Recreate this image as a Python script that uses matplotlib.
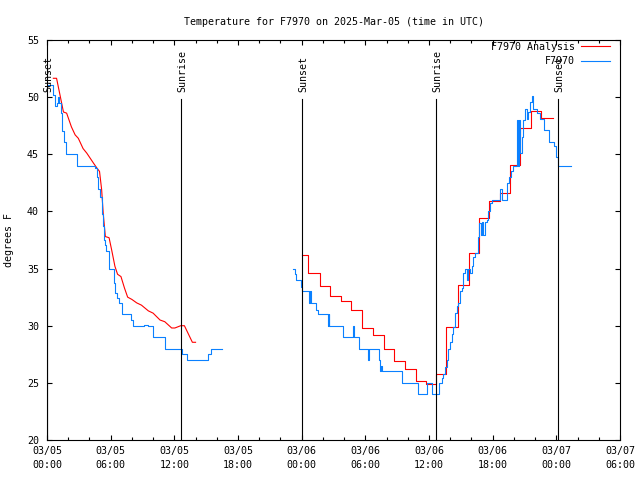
import matplotlib
matplotlib.use("Agg")
import matplotlib.pyplot as plt

# hours since 03/05 00:00 UTC, temperature in F
obs1_t = [0.05, 0.55, 0.75, 0.9, 1.0, 1.15, 1.3, 1.45, 1.6, 1.75, 2.85, 4.55, 4.7,
          4.85, 5.0, 5.15, 5.3, 5.4, 5.5, 5.6, 5.8, 6.3, 6.45, 6.6, 6.8, 7.1, 7.95,
          8.1, 9.1, 9.55, 10.0, 11.1, 12.75, 13.2, 15.2, 15.45, 16.5]
obs1_f = [51.1, 50.2, 49.2, 49.5, 50.0, 49.5, 48.6, 47.0, 46.1, 45.0, 44.0, 43.8, 43.0,
          42.0, 41.3, 39.8, 38.7, 37.5, 37.1, 36.5, 35.0, 33.7, 32.9, 32.4, 32.0, 31.0, 30.5,
          30.0, 30.1, 30.0, 29.0, 28.0, 27.5, 27.0, 27.5, 28.0, 28.0]

obs2_t = [23.22, 23.35, 23.45, 23.95, 24.06, 24.7, 24.78, 24.85, 25.35, 25.57, 26.5,
          26.55, 26.62, 27.93, 28.81, 28.93, 29.44, 30.29, 30.38, 31.3, 31.39, 31.5,
          31.6, 33.43, 35.0, 35.84, 36.3, 36.97, 37.2, 37.35, 37.5, 37.67, 37.82,
          37.98, 38.14, 38.29, 38.45, 38.61, 38.77, 38.92, 39.08, 39.24, 39.4, 39.55,
          39.7, 39.85, 40.02, 40.18, 40.33, 40.65, 40.74, 40.87, 40.98, 41.12, 41.28,
          41.44, 41.6, 41.75, 41.91, 42.7, 42.85, 43.39, 43.58, 43.73, 43.89, 44.27,
          44.36, 44.46, 44.58, 44.74, 44.89, 45.05, 45.2, 45.36, 45.52, 45.68, 45.77,
          46.15, 46.46, 46.84, 47.34, 47.78, 47.97, 48.19, 49.36]
obs2_f = [35.0, 34.5, 34.0, 33.4, 33.0, 32.0, 33.0, 32.0, 31.4, 31.0, 30.0,
          31.0, 30.0, 29.0, 30.0, 29.0, 28.0, 27.0, 28.0, 27.0, 26.0, 26.5,
          26.0, 25.0, 24.0, 25.0, 24.0, 25.0, 25.4, 25.8, 26.4, 27.0, 28.0,
          28.6, 29.3, 29.9, 31.1, 31.7, 32.0, 33.0, 33.3, 34.6, 35.0, 34.0,
          35.0, 34.6, 35.2, 36.0, 36.4, 37.8, 39.0, 37.9, 39.1, 37.9, 39.1,
          39.25, 40.0, 40.7, 41.0, 42.0, 41.0, 42.45, 43.0, 43.5, 44.0, 48.0,
          44.0, 48.0, 45.1, 46.5, 48.0, 49.0, 48.1, 48.7, 49.6, 50.1, 49.0,
          48.6, 48.1, 47.1, 46.1, 45.7, 44.8, 44.0, 44.0]

ana1_t = [0.6, 0.9, 1.2, 1.55, 1.85, 2.3, 2.65, 2.95, 3.4, 3.75, 4.4, 4.7, 4.95, 5.15,
          5.3, 5.5, 5.85, 6.1, 6.4, 6.65, 6.97, 7.3, 7.6, 8.0, 8.45, 8.9, 9.55, 10.0,
          10.65, 11.1, 11.75, 12.05, 12.6, 12.95, 13.7, 14.0]
ana1_f = [51.65, 51.65, 50.3, 48.7, 48.6, 47.4, 46.7, 46.4, 45.5, 45.1, 44.2, 43.8, 43.5, 41.9,
          39.8, 37.8, 37.7, 36.6, 35.2, 34.5, 34.3, 33.3, 32.5, 32.3, 32.0, 31.8, 31.3, 31.1,
          30.5, 30.35, 29.8, 29.8, 30.0, 30.0, 28.55, 28.55]

ana2_t = [24.06, 24.6, 25.7, 26.7, 27.7, 28.65, 29.7, 30.7, 31.8, 32.7, 33.7, 34.75,
          35.7, 36.7, 37.6, 38.75, 39.75, 40.75, 41.7, 42.7, 43.6, 44.6, 45.6, 46.6, 47.7]
ana2_f = [36.2, 34.6, 33.5, 32.6, 32.2, 31.4, 29.8, 29.2, 28.0, 26.9, 26.2, 25.2,
          24.9, 25.8, 29.9, 33.6, 36.4, 39.4, 40.9, 41.6, 44.1, 47.3, 48.8, 48.15, 48.15]

sun_t = [0.02, 12.63, 24.06, 36.68, 48.19]
sun_lbl = ["Sunset", "Sunrise", "Sunset", "Sunrise", "Sunset"]

tick_t = [0, 6, 12, 18, 24, 30, 36, 42, 48, 54]
tick_lbl = ["03/05\n00:00", "03/05\n06:00", "03/05\n12:00", "03/05\n18:00",
            "03/06\n00:00", "03/06\n06:00", "03/06\n12:00", "03/06\n18:00",
            "03/07\n00:00", "03/07\n06:00"]

plt.rcParams["font.family"] = "DejaVu Sans Mono"
plt.rcParams["font.size"] = 7.2

fig = plt.figure(figsize=(6.4, 4.8), dpi=100)
ax = fig.add_axes([47 / 640, 40 / 480, 573 / 640, 400 / 480])

red = "#ff0000"
blue = "#0a80ff"
lw = 0.8

ax.plot(ana1_t, ana1_f, color=red, lw=lw, label="F7970 Analysis")
ax.plot(ana2_t, ana2_f, color=red, lw=lw, drawstyle="steps-post")
ax.plot(obs1_t, obs1_f, color=blue, lw=lw, drawstyle="steps-post", label="F7970")
ax.plot(obs2_t, obs2_f, color=blue, lw=lw, drawstyle="steps-post")

for t, s in zip(sun_t, sun_lbl):
    ax.plot([t, t], [20, 49.85], color="black", lw=0.8)
    ax.text(t + 0.1, 50.45, s, rotation=90, ha="center", va="bottom")

ax.set_xlim(0, 54)
ax.set_ylim(20, 55)
ax.set_xticks(tick_t)
ax.set_xticklabels(tick_lbl, linespacing=1.5)
ax.set_xticks(range(0, 55, 2), minor=True)
ax.set_yticks(range(20, 56, 5))
ax.tick_params(which="both", direction="in", top=True, right=True, width=0.8)
ax.tick_params(which="major", length=3.8)
ax.tick_params(which="minor", length=2.2)
ax.tick_params(axis="x", pad=4.5)
ax.tick_params(axis="y", pad=5.8)
for sp in ax.spines.values():
    sp.set_linewidth(0.8)

ax.set_ylabel("degrees F", labelpad=9)
ax.set_title("Temperature for F7970 on 2025-Mar-05 (time in UTC)", fontsize=7.2, pad=11)

ax.legend(loc="upper right", bbox_to_anchor=(563 / 573, 0.996), frameon=False,
          markerfirst=False, borderpad=0, borderaxespad=0,
          handlelength=2.9, handletextpad=0.6, labelspacing=0.45)

fig.savefig("out.png", dpi=100)
